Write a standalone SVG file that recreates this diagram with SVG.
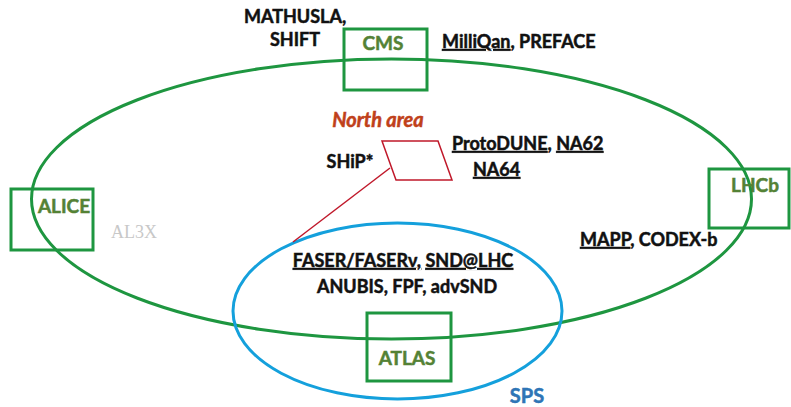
<svg xmlns="http://www.w3.org/2000/svg" width="791" height="407" viewBox="0 0 791 407">
<style>
.t{font-family:Lato,"Open Sans","Liberation Sans",sans-serif;font-weight:bold;font-size:18px;fill:#111;stroke:#111;stroke-width:0.5}
.g{fill:#548235;stroke:#548235;font-size:19px}
.u{text-decoration:underline}
.box{fill:none;stroke:#1e9640;stroke-width:3}
.ring{fill:none;stroke:#1e9640;stroke-width:3}
</style>
<rect width="791" height="407" fill="#fff"/>
<g id="connectors">
<ellipse id="lhc" class="ring" cx="391.5" cy="199" rx="360" ry="140"/>
<ellipse id="sps" cx="397.5" cy="311" rx="164.5" ry="88" fill="none" stroke="#14a0dc" stroke-width="3"/>
<line x1="390" y1="168" x2="293" y2="242" stroke="#c0182a" stroke-width="1.5"/>
</g>
<g id="cms"><rect class="box" x="344" y="29" width="83" height="61"/><text class="t g" x="383" y="50" text-anchor="middle">CMS</text></g>
<g id="alice"><rect class="box" x="11" y="189" width="82" height="61"/><text class="t g" x="64" y="213" text-anchor="middle">ALICE</text></g>
<g id="lhcb"><rect class="box" x="709" y="169" width="80" height="59"/><text class="t g" x="755" y="192" text-anchor="middle">LHCb</text></g>
<g id="atlas"><rect class="box" x="367" y="313" width="84" height="68"/><text class="t g" x="407" y="365" text-anchor="middle">ATLAS</text></g>
<g id="northarea"><polygon points="382,141 438,141 452,180 396,180" fill="none" stroke="#c0182a" stroke-width="1.5"/>
<text class="t" x="378" y="127" text-anchor="middle" style="fill:#c0401a;stroke:#c0401a;font-style:italic;font-size:20px">North area</text></g>
<g id="labels">
<text class="t" x="295" y="23" text-anchor="middle">MATHUSLA,</text>
<text class="t" x="295" y="46" text-anchor="middle">SHIFT</text>
<text class="t" x="442" y="48"><tspan class="u">MilliQan</tspan>, PREFACE</text>
<text class="t" x="350" y="168" text-anchor="middle">SHiP*</text>
<text class="t" x="452" y="150"><tspan class="u">ProtoDUNE</tspan>, <tspan class="u">NA62</tspan></text>
<text class="t u" x="473" y="176">NA64</text>
<text x="111" y="238" style="font-family:'Liberation Serif',serif;font-size:18px;fill:#c8c8c8">AL3X</text>
<text class="t" x="580" y="246"><tspan class="u">MAPP</tspan>, CODEX-b</text>
<text class="t" x="403" y="267" text-anchor="middle"><tspan class="u">FASER/FASERν,</tspan> <tspan class="u">SND@LHC</tspan></text>
<text class="t" x="407" y="293" text-anchor="middle">ANUBIS, FPF, advSND</text>
<text class="t" x="527" y="403" text-anchor="middle" style="fill:#2e75b6;stroke:#2e75b6;font-size:20px">SPS</text>
</g>
</svg>
